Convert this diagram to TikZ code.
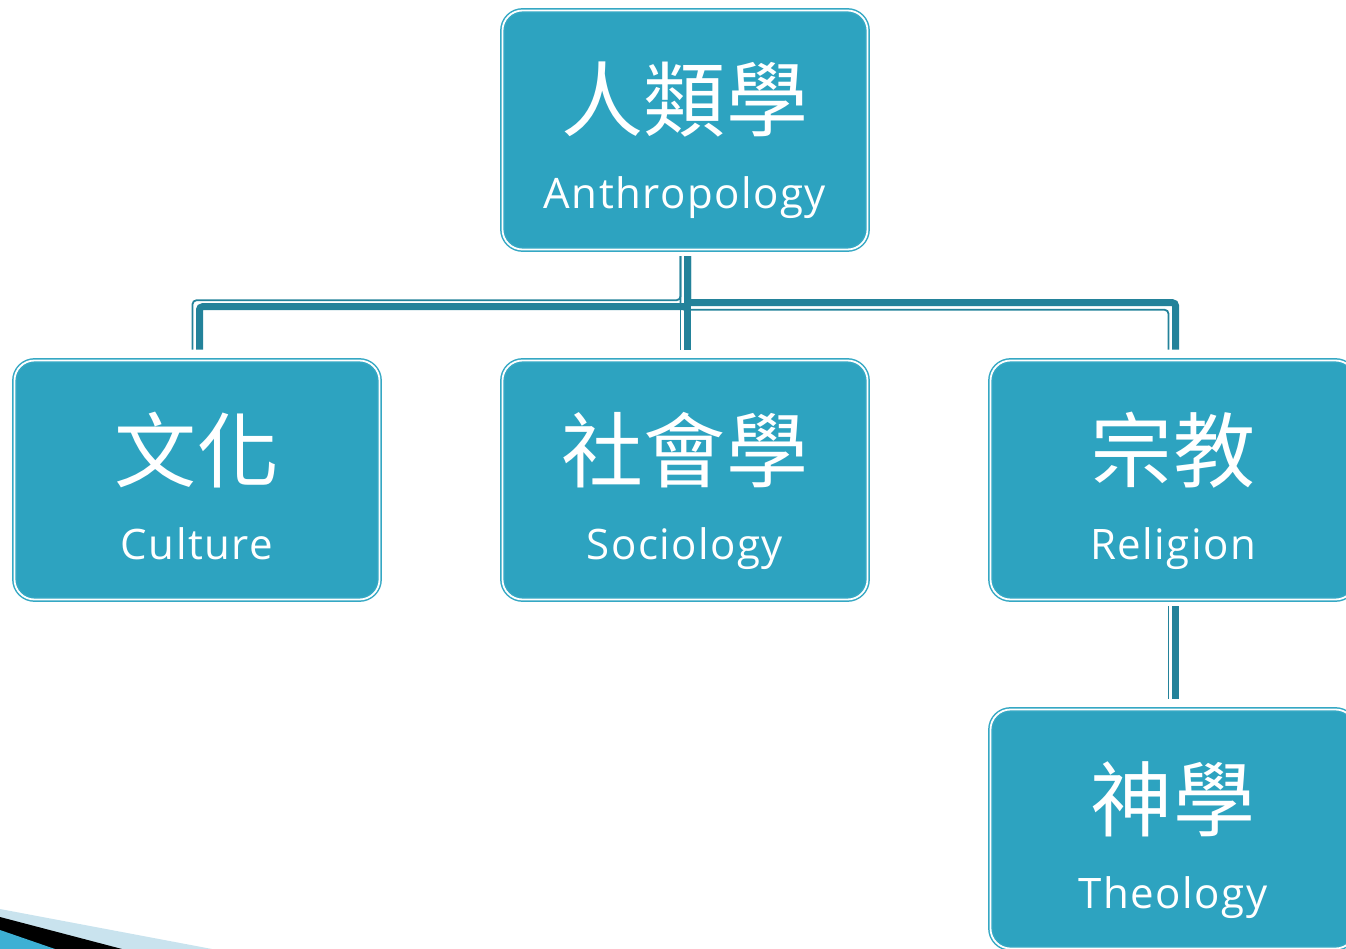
\documentclass[tikz,border=0pt]{standalone}
\usepackage{fontspec}
\setmainfont[LetterSpace=3.5]{Open Sans}
\newfontfamily\zhfont[LetterSpace=1]{Noto Sans CJK TC}
\usetikzlibrary{calc}
\definecolor{boxfill}{HTML}{2DA3C0}
\definecolor{boxedge}{HTML}{35A8C4}
\definecolor{conn}{HTML}{23829A}
\definecolor{pale}{HTML}{C9E3EE}
\definecolor{wedgeblue}{HTML}{3DB0D4}
\begin{document}
\begin{tikzpicture}[x=1pt,y=-1pt,
  box/.style={draw=boxedge, fill=boxfill, double=white, double distance=1.8pt,
    line width=1.5pt, rounded corners=20pt, minimum width=365pt,
    minimum height=239pt, inner sep=0pt},
  zh/.style={font=\zhfont\fontsize{82}{82}\selectfont, text=white, anchor=base, inner sep=0pt},
  en/.style={font=\fontsize{42}{42}\selectfont, text=white, anchor=base, inner sep=0pt},
  thickline/.style={draw=conn, line width=7pt, rounded corners=3pt},
  thinline/.style={draw=conn, line width=1.8pt, rounded corners=4pt}]
\useasboundingbox (0,0) rectangle (1346,949);
\clip (0,0) rectangle (1346,949);
% corner decoration
\fill[pale] (0,909) -- (212,949) -- (0,949) -- cycle;
\fill[black] (0,917) -- (122,949) -- (0,949) -- cycle;
\fill[wedgeblue] (0,930) -- (55,949) -- (0,949) -- cycle;
% boxes
\node[box] (top) at (685,130) {};
\node[box] (left) at (197,480) {};
\node[box] (mid) at (685,480) {};
\node[box] (right) at (1173,480) {};
\node[box] (theo) at (1173,829) {};
% texts
\node[zh] (topzh) at ($(top.center)+(0,1)$) {人類學};
\node[en] (topen) at ($(top.center)+(0,79)$) {Anthropology};
\node[zh] (leftzh) at ($(left.center)+(0,1)$) {文化};
\node[en] (leften) at ($(left.center)+(0,79)$) {Culture};
\node[zh] (midzh) at ($(mid.center)+(0,1)$) {社會學};
\node[en] (miden) at ($(mid.center)+(0,79)$) {Sociology};
\node[zh] (rightzh) at ($(right.center)+(0,1)$) {宗教};
\node[en] (righten) at ($(right.center)+(0,79)$) {Religion};
\node[zh] (theozh) at ($(theo.center)+(0,1)$) {神學};
\node[en] (theoen) at ($(theo.center)+(0,79)$) {Theology};
% connectors: thin strands
\draw[thinline] ($(top.south)+(-4.5,6)$) -- ($(top.south)+(-4.5,50)$) -| ($(left.north)+(-4.5,-10)$);
\draw[thinline] ($(top.south)+(-4.5,6)$) -- ($(top.south)+(-4.5,59.5)$) -| ($(right.north)+(-4.5,-10)$);
\draw[thinline] ($(top.south)+(-4.5,6)$) -- ($(mid.north)+(-4.5,-10)$);
\draw[thinline] ($(right.south)+(-4.5,6)$) -- ($(theo.north)+(-4.5,-10)$);
% connectors: thick strands
\draw[thickline] ($(top.south)+(2.5,6)$) -- ($(top.south)+(2.5,56.5)$) -| ($(left.north)+(2.5,-10)$);
\draw[thickline] ($(top.south)+(2.5,6)$) -- ($(top.south)+(2.5,52.5)$) -| ($(right.north)+(2.5,-10)$);
\draw[thickline] ($(top.south)+(2.5,6)$) -- ($(mid.north)+(2.5,-10)$);
\draw[thickline] ($(right.south)+(2.5,6)$) -- ($(theo.north)+(2.5,-10)$);
\end{tikzpicture}
\end{document}
